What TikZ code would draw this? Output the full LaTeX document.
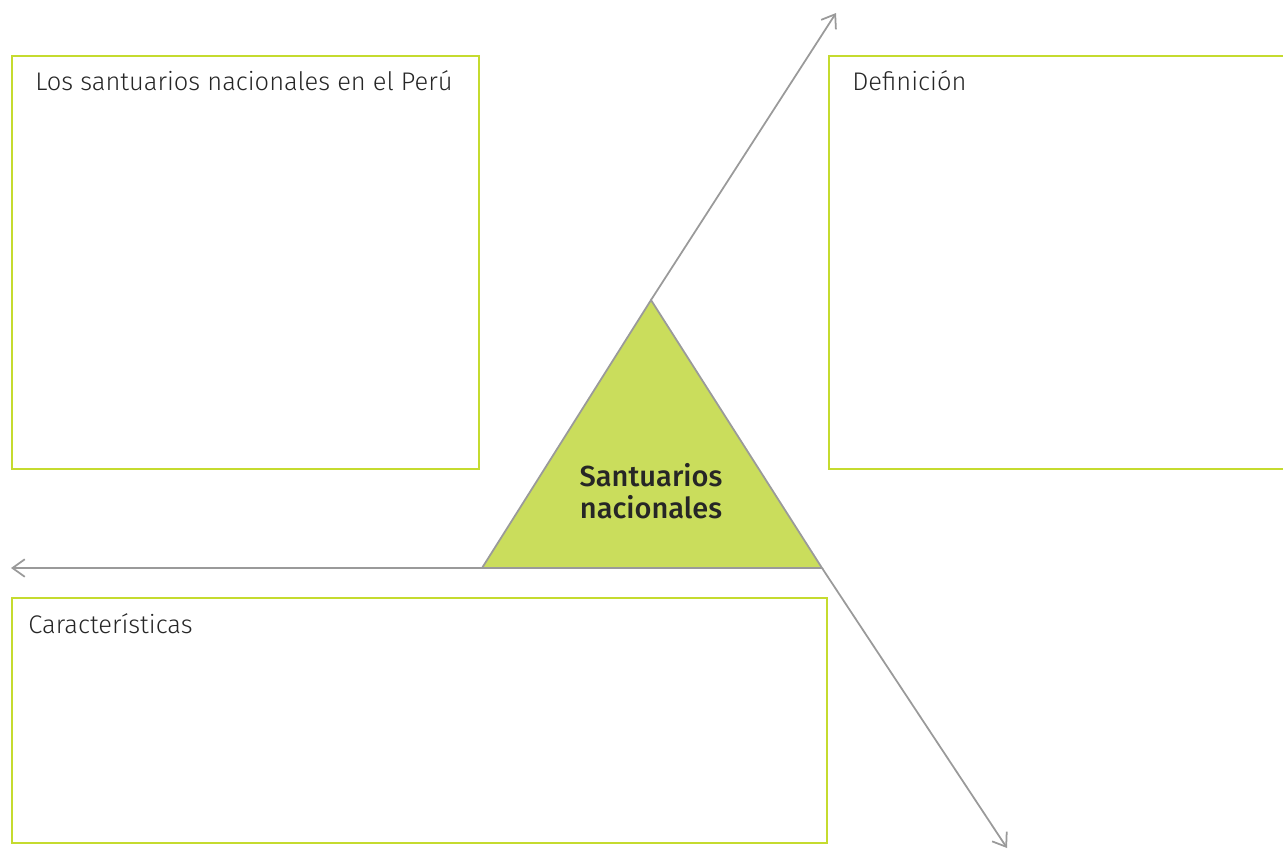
\documentclass[tikz,border=0pt]{standalone}
\usepackage{fontspec}
\setmainfont{Fira Sans}[UprightFont=* Light, BoldFont=* Medium]
\usetikzlibrary{arrows.meta, positioning}

\begin{document}
\begin{tikzpicture}[x=0.02cm, y=-0.02cm]
  \definecolor{framecol}{HTML}{C5DB2F}
  \definecolor{trifill}{HTML}{CADD5C}
  \definecolor{linecol}{HTML}{9A9A9A}
  \definecolor{textcol}{HTML}{262626}

  \tikzset{
    frame/.style={
      rectangle, anchor=north west, inner sep=0pt,
      draw=framecol, line width=1.1pt
    },
    caption/.style={
      anchor=base west, inner sep=0pt,
      font=\fontsize{14.5}{17}\selectfont, text=textcol
    },
    arr/.style={
      -{Straight Barb[length=7pt, width=10pt]},
      line width=1pt, color=linecol
    }
  }

  \useasboundingbox (0,0) rectangle (1283,850);

  % boxes
  \node[frame, minimum width=9.34cm, minimum height=8.26cm] (peru) at (11,55) {};
  \node[frame, minimum width=9.6cm, minimum height=8.26cm] (defin) at (828,55) {};
  \node[frame, minimum width=16.3cm, minimum height=4.9cm] (carac) at (11,597) {};

  \node[caption] (perutxt) at ([xshift=0.48cm, yshift=-0.7cm]peru.north west) {Los santuarios nacionales en el Perú};
  \node[caption] (defintxt) at ([xshift=0.48cm, yshift=-0.7cm]defin.north west) {Definición};
  \node[caption] (caractxt) at ([xshift=0.34cm, yshift=-0.72cm]carac.north west) {Características};

  % triangle
  \coordinate (apex) at (651,300);
  \coordinate (bl) at (482,568);
  \coordinate (br) at (822,568);
  \coordinate (ne) at (836,13);
  \coordinate (se) at (1007,848);
  \coordinate (w) at (11,568);

  \draw[arr] (apex) -- (ne);
  \draw[arr] (br) -- (se);
  \draw[arr] (bl) -- (w);

  \draw[fill=trifill, draw=linecol, line width=1pt] (apex) -- (br) -- (bl) -- cycle;
  \node[align=center, font=\bfseries\fontsize{16.5}{18.5}\selectfont, text=textcol] (tri) at (651,491) {Santuarios\\nacionales};
\end{tikzpicture}
\end{document}
